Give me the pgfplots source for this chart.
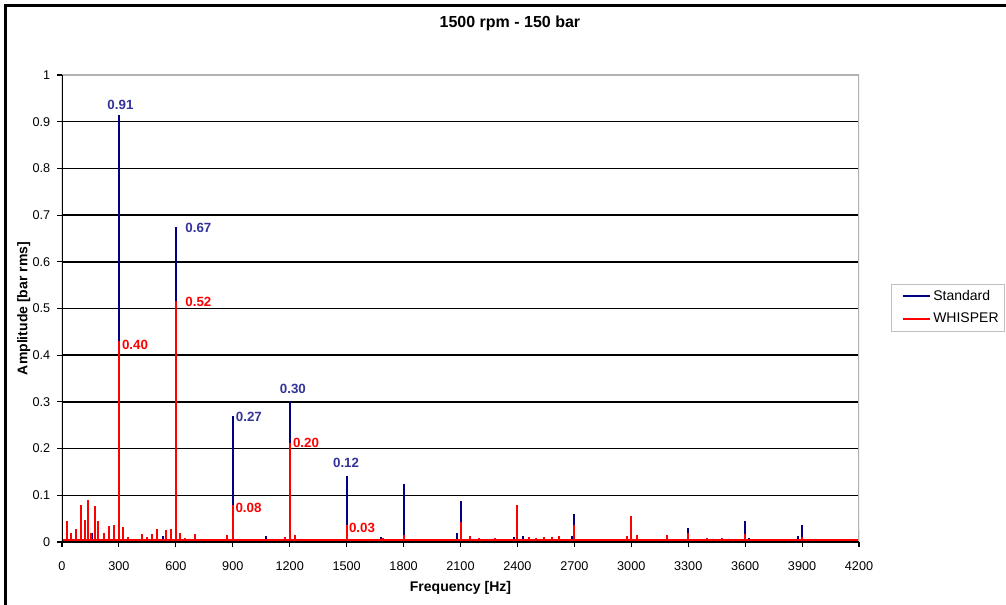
\documentclass[border=0pt]{standalone}
\usepackage{fontspec}
\setmainfont{Liberation Sans}
\usepackage{pgfplots}
\pgfplotsset{compat=1.18}
\usepackage{pgfplotstable}
\definecolor{stdblue}{RGB}{0,0,128}
\definecolor{lblblue}{RGB}{51,51,153}
\definecolor{whred}{RGB}{255,0,0}

% Standard spectrum lines (Hz, bar rms)
\pgfplotstableread{
f a
160 0.02
300 0.915
530 0.012
600 0.674
900 0.27
1073 0.012
1200 0.303
1500 0.142
1680 0.01
1800 0.124
2080 0.02
2100 0.088
2380 0.01
2430 0.012
2690 0.012
2700 0.06
3000 0.02
3300 0.03
3600 0.045
3620 0.008
3880 0.012
3900 0.036
}\stddata

% WHISPER spectrum lines (Hz, bar rms)
\pgfplotstableread{
f a
25 0.045
45 0.02
72 0.028
100 0.08
121 0.048
139 0.09
152 0.02
174 0.077
191 0.045
221 0.02
248 0.035
274 0.037
300 0.43
321 0.033
350 0.01
420 0.018
448 0.01
472 0.018
499 0.028
548 0.025
573 0.028
600 0.515
622 0.02
650 0.008
701 0.018
750 0.006
800 0.006
870 0.015
900 0.079
1000 0.005
1173 0.01
1200 0.213
1226 0.015
1300 0.006
1500 0.036
1694 0.008
1800 0.015
2100 0.043
2150 0.012
2200 0.008
2280 0.008
2400 0.079
2460 0.01
2500 0.008
2540 0.01
2580 0.01
2620 0.012
2700 0.036
2980 0.012
3000 0.056
3030 0.015
3190 0.015
3300 0.02
3400 0.008
3480 0.008
3600 0.017
3900 0.01
4200 0.026
}\whdata

\pgfplotstableread{
f a lab
308 0.935 0.91
719 0.672 0.67
985 0.268 0.27
1217 0.328 0.30
1497 0.169 0.12
}\stdlabels

\pgfplotstableread{
f a lab
385 0.421 0.40
719 0.5146 0.52
983 0.0739 0.08
1286 0.213 0.20
1581 0.030 0.03
}\whlabels

\begin{document}
\begin{tikzpicture}[x=1pt,y=1pt]
\useasboundingbox (-46.5,-46.5) rectangle (708,406.5);
\fill[white] (-46.5,-46.5) rectangle (708,406.5);
\draw[line width=2.25pt, line cap=rect] (-42,-46.5) -- (-42,402) -- (708,402);
\begin{axis}[
  at={(0,0)}, anchor=south west,
  scale only axis, width=597.75pt, height=350.25pt,
  xmin=0, xmax=4200, ymin=0, ymax=1,
  xtick={0,300,600,900,1200,1500,1800,2100,2400,2700,3000,3300,3600,3900,4200},
  ytick={0,0.1,0.2,0.3,0.4,0.5,0.6,0.7,0.8,0.9,1},
  ymajorgrids,
  major grid style={black, line width=1.1pt},
  axis line style={draw=none},
  tick pos=left, tick align=outside,
  major tick length=3.75pt,
  major tick style={black, line width=0.8pt},
  /pgf/number format/assume math mode=true,
  tick label style={font=\fontsize{9.5}{11}\selectfont, text=black},
  xticklabel style={/pgf/number format/1000 sep={}, yshift=-7.5pt},
  yticklabel style={/pgf/number format/fixed, /pgf/number format/precision=1, xshift=-1.5pt},
  title={1500 rpm - 150 bar},
  title style={at={(axis description cs:0.562,1.1135)}, anchor=center, yshift=-7pt, font=\bfseries\fontsize{12}{14}\selectfont},
  xlabel={Frequency [Hz]},
  xlabel style={at={(axis description cs:0.5,-0.0985)}, anchor=center, font=\bfseries\fontsize{10.5}{12}\selectfont},
  ylabel={Amplitude [bar rms]},
  ylabel style={at={(axis description cs:-0.048,0.5)}, anchor=center, font=\bfseries\fontsize{10.5}{12}\selectfont},
  legend style={at={(axis description cs:1.040,0.5525)}, anchor=north west, draw=gray!50, line width=0.6pt,
    font=\fontsize{10.5}{12}\selectfont, inner xsep=2pt, inner ysep=2.5pt, row sep=4pt, legend cell align=left},
  legend image code/.code={\path (-6pt,0pt); \draw[#1] (0pt,0pt) -- (20pt,0pt);},
]
\addplot[stdblue, line width=1pt, forget plot] coordinates {(0,0.003) (4200,0.003)};
\addplot[ycomb, stdblue, line width=1.5pt, no markers] table[x=f,y=a]{\stddata};
\addlegendentry{Standard}
\addplot[ycomb, whred, line width=1.5pt, no markers] table[x=f,y=a]{\whdata};
\addlegendentry{WHISPER}
\addplot[whred, line width=1.5pt, forget plot] coordinates {(0,0.005) (4200,0.005)};
\addplot[draw=none, mark=none, forget plot, nodes near coords, point meta=explicit symbolic,
  nodes near coords style={anchor=center, font=\bfseries\fontsize{10}{12}\selectfont, text=lblblue}]
  table[x=f,y=a,meta=lab]{\stdlabels};
\addplot[draw=none, mark=none, forget plot, nodes near coords, point meta=explicit symbolic,
  nodes near coords style={anchor=center, font=\bfseries\fontsize{10}{12}\selectfont, text=whred}]
  table[x=f,y=a,meta=lab]{\whlabels};
\draw[gray!60, line width=0.8pt] (rel axis cs:0,1) -- (rel axis cs:1,1) -- (rel axis cs:1,0);
\draw[black, line width=0.9pt] (rel axis cs:0,1) -- (rel axis cs:0,0) -- (rel axis cs:1,0);
\end{axis}
\end{tikzpicture}
\end{document}
